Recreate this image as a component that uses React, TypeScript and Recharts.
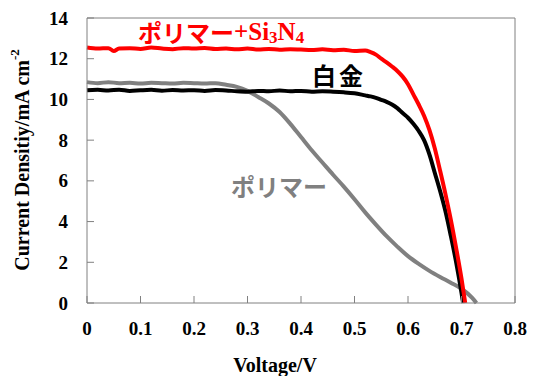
import React from 'react'
import { LineChart, Line, XAxis, YAxis, ReferenceLine, Label } from 'recharts'

// J-V curves, voltage in V, current density in mA/cm2
const polymerSiV = [0, 0.02, 0.04, 0.05, 0.06, 0.08, 0.1, 0.12, 0.14, 0.16, 0.18, 0.2, 0.22, 0.24, 0.26, 0.28, 0.3, 0.32, 0.34, 0.36, 0.38, 0.4, 0.42, 0.44, 0.46, 0.48, 0.5, 0.52, 0.53, 0.54, 0.55, 0.56, 0.57, 0.58, 0.59, 0.6, 0.61, 0.62, 0.63, 0.64, 0.65, 0.66, 0.67, 0.68, 0.69, 0.7, 0.707]
const polymerSiJ = [12.55, 12.5, 12.52, 12.38, 12.5, 12.52, 12.48, 12.55, 12.5, 12.47, 12.52, 12.5, 12.53, 12.48, 12.5, 12.46, 12.5, 12.45, 12.48, 12.44, 12.47, 12.45, 12.43, 12.46, 12.42, 12.44, 12.38, 12.4, 12.32, 12.2, 12.0, 11.82, 11.62, 11.4, 11.12, 10.75, 10.25, 9.75, 9.2, 8.5, 7.6, 6.5, 5.35, 4.1, 2.7, 1.2, 0]

const platinumV = [0, 0.02, 0.04, 0.06, 0.08, 0.1, 0.12, 0.14, 0.16, 0.18, 0.2, 0.22, 0.24, 0.26, 0.28, 0.3, 0.32, 0.34, 0.36, 0.38, 0.4, 0.42, 0.44, 0.46, 0.48, 0.5, 0.52, 0.53, 0.54, 0.55, 0.56, 0.57, 0.58, 0.59, 0.6, 0.61, 0.62, 0.63, 0.64, 0.65, 0.66, 0.67, 0.68, 0.69, 0.7, 0.703]
const platinumJ = [10.45, 10.47, 10.44, 10.48, 10.42, 10.45, 10.47, 10.43, 10.46, 10.44, 10.45, 10.42, 10.46, 10.44, 10.4, 10.38, 10.42, 10.4, 10.44, 10.4, 10.42, 10.38, 10.4, 10.38, 10.35, 10.3, 10.2, 10.15, 10.08, 9.98, 9.88, 9.75, 9.57, 9.33, 9.1, 8.8, 8.45, 8.0, 7.3, 6.4, 5.5, 4.5, 3.3, 2.0, 0.5, 0]

const polymerV = [0, 0.02, 0.04, 0.06, 0.08, 0.1, 0.12, 0.14, 0.16, 0.18, 0.2, 0.22, 0.24, 0.26, 0.28, 0.3, 0.32, 0.34, 0.36, 0.38, 0.4, 0.42, 0.44, 0.46, 0.48, 0.5, 0.52, 0.54, 0.56, 0.58, 0.6, 0.62, 0.64, 0.66, 0.68, 0.7, 0.72, 0.728]
const polymerJ = [10.85, 10.8, 10.85, 10.8, 10.82, 10.78, 10.82, 10.8, 10.78, 10.82, 10.8, 10.78, 10.8, 10.72, 10.62, 10.42, 10.12, 9.8, 9.38, 8.8, 8.15, 7.5, 6.9, 6.3, 5.72, 5.1, 4.45, 3.85, 3.28, 2.77, 2.3, 1.92, 1.58, 1.28, 1.0, 0.7, 0.25, 0]

const xTicks = [0, 0.1, 0.2, 0.3, 0.4, 0.5, 0.6, 0.7, 0.8]
const yTicks = [0, 2, 4, 6, 8, 10, 12, 14]

const toPoints = (vs: number[], js: number[]) => vs.map((v, i) => ({ v, j: js[i] }))

const serif = '"Liberation Serif", "Times New Roman", serif'
const gothic = '"Noto Sans CJK JP", sans-serif'
const axisGray = '#808080'

const XTick = ({ x, y, payload }: any) => (
  <g>
    <line x1={x} y1={y} x2={x} y2={y - 7} stroke={axisGray} />
    <text x={x} y={y + 25} textAnchor="middle" dominantBaseline="central" fontFamily={serif} fontWeight="bold" fontSize={19} fill="#000">
      {payload.value}
    </text>
  </g>
)

const YTick = ({ x, y, payload }: any) => (
  <g>
    <line x1={x} y1={y} x2={x + 7} y2={y} stroke={axisGray} />
    <text x={x - 19} y={y} textAnchor="end" dominantBaseline="central" fontFamily={serif} fontWeight="bold" fontSize={19} fill="#000">
      {payload.value}
    </text>
  </g>
)

export default function App() {
  return (
    <div style={{ position: 'absolute', left: 0, top: 0, background: '#fff' }}>
      <LineChart width={533} height={376} margin={{ top: 18, right: 18, left: 0, bottom: 0 }}>
        <XAxis
          type="number"
          dataKey="v"
          domain={[0, 0.8]}
          ticks={xTicks}
          height={73}
          stroke={axisGray}
          tickSize={0}
          tickMargin={0}
          tick={<XTick />}
          tickLine={false}
        >
          <Label
            content={() => (
              <text x={275} y={365} textAnchor="middle" dominantBaseline="central" fontFamily={serif} fontWeight="bold" fontSize={20} fill="#000">
                Voltage/V
              </text>
            )}
          />
        </XAxis>
        <YAxis
          type="number"
          domain={[0, 14]}
          ticks={yTicks}
          width={87}
          stroke={axisGray}
          tickSize={0}
          tickMargin={0}
          tick={<YTick />}
          tickLine={false}
        >
          <Label
            content={() => (
              <text x={22} y={160} transform="rotate(-90 22 160)" textAnchor="middle" dominantBaseline="central" fontFamily={serif} fontWeight="bold" fontSize={20} fill="#000">
                Current Densitiy/mA cm<tspan dy={-8} fontSize={13}>-2</tspan>
              </text>
            )}
          />
        </YAxis>
        <ReferenceLine y={14} stroke={axisGray} />
        <ReferenceLine x={0.8} stroke={axisGray} />
        <Line data={toPoints(polymerV, polymerJ)} dataKey="j" stroke="#808080" strokeWidth={4} dot={false} type="monotone" isAnimationActive={false} />
        <Line data={toPoints(platinumV, platinumJ)} dataKey="j" stroke="#000000" strokeWidth={4} dot={false} type="monotone" isAnimationActive={false} />
        <Line data={toPoints(polymerSiV, polymerSiJ)} dataKey="j" stroke="#ff0000" strokeWidth={4} dot={false} type="monotone" isAnimationActive={false} />
        <text x={138} y={31} dominantBaseline="central" fill="#ff0000" fontWeight="bold">
          <tspan fontFamily={gothic} fontSize={24}>ポリマー</tspan>
          <tspan fontFamily={serif} fontSize={25}>+Si</tspan>
          <tspan fontFamily={serif} fontSize={17} dy={6}>3</tspan>
          <tspan fontFamily={serif} fontSize={25} dy={-6}>N</tspan>
          <tspan fontFamily={serif} fontSize={17} dy={6}>4</tspan>
        </text>
        <text x={312} y={74} dominantBaseline="central" fill="#000" fontWeight="bold" fontFamily={gothic} fontSize={24} letterSpacing={3}>
          白金
        </text>
        <text x={231} y={185} dominantBaseline="central" fill="#808080" fontWeight="bold" fontFamily={gothic} fontSize={24}>
          ポリマー
        </text>
      </LineChart>
    </div>
  )
}
